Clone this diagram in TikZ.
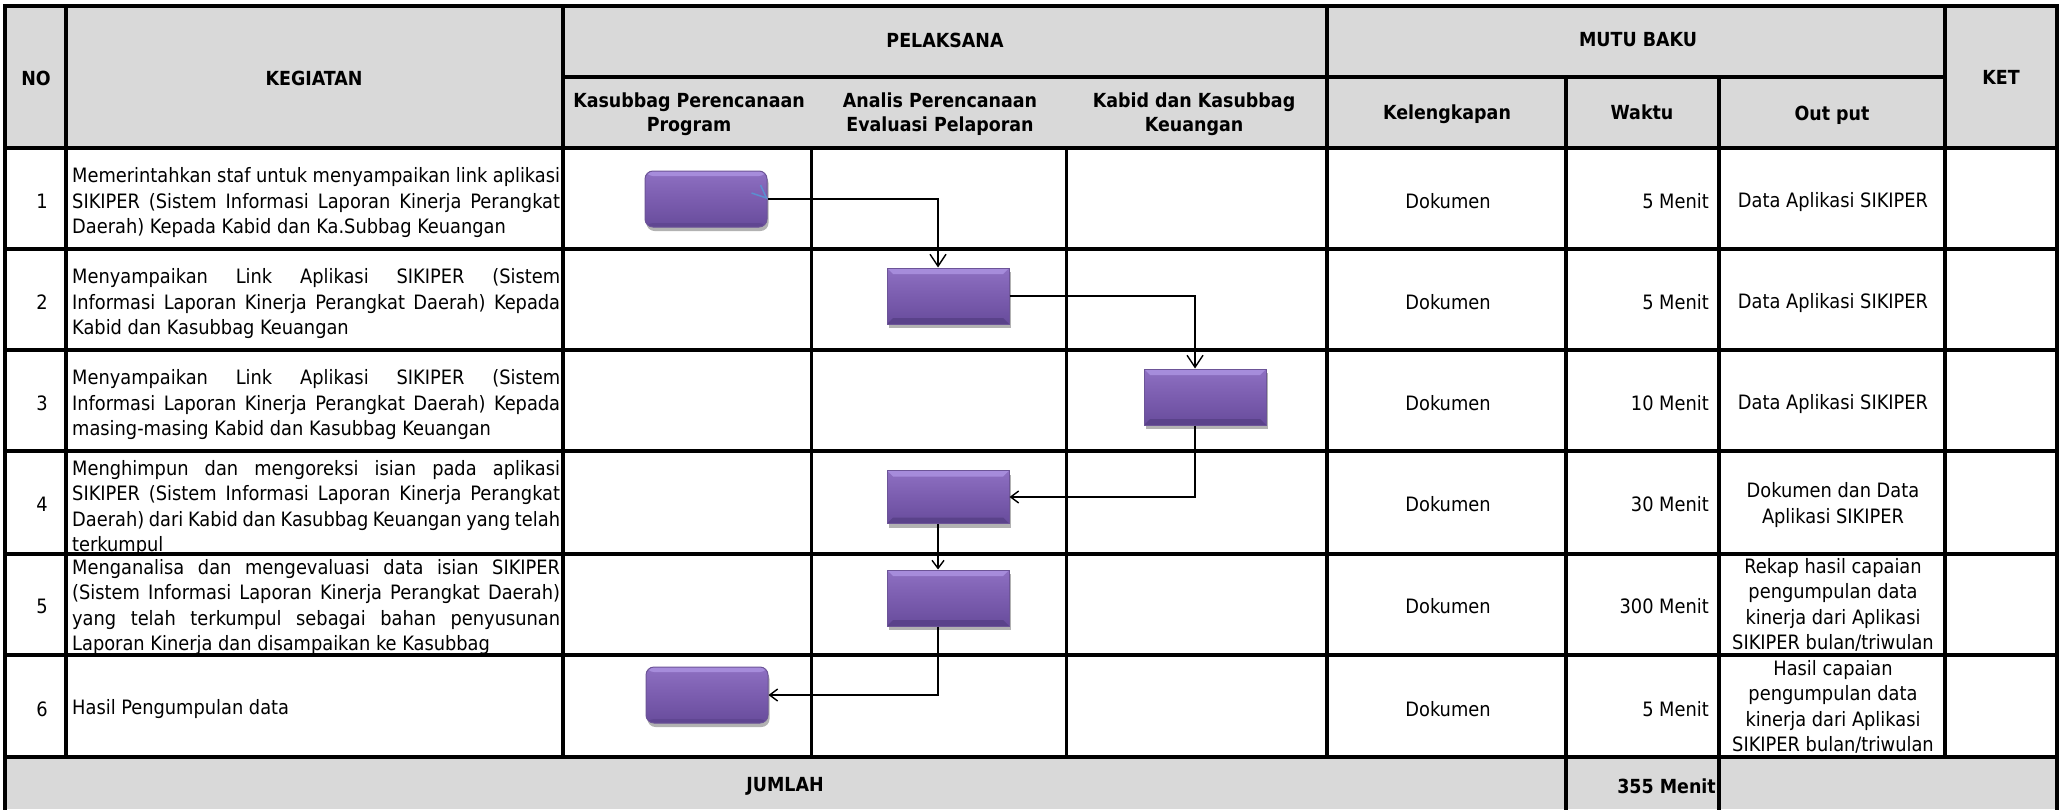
\documentclass[tikz,border=0pt]{standalone}
\usepackage{fontspec}
\setmainfont{DejaVu Sans Condensed}
\usetikzlibrary{arrows.meta,shadows}
\definecolor{hdrgray}{HTML}{D9D9D9}
\definecolor{boxtop}{HTML}{8E70C2}
\definecolor{boxmid}{HTML}{7B5DAF}
\definecolor{boxbot}{HTML}{684C9C}
\definecolor{boxedge}{HTML}{6C5497}
\definecolor{bevlight}{HTML}{A68CDB}
\definecolor{bevdark}{HTML}{5A428A}
\definecolor{artblue}{HTML}{5B8FD0}
\newcommand{\jl}[1]{\makebox[488pt][s]{#1}\\}
\begin{document}
\begin{tikzpicture}[x=1pt,y=-1pt,
  gridthick/.style={line width=4.6pt, line cap=rect},
  gridthin/.style={line width=3pt},
  hdr/.style={font=\fontsize{19.4}{24}\selectfont\bfseries, align=center, inner sep=0pt},
  txt/.style={font=\fontsize{19.8}{25.5}\selectfont, align=center, inner sep=0pt},
  conn/.style={line width=1.4pt, draw=black},
  bigtip/.style={-{Straight Barb[length=12pt,width=16pt]}},
  smalltip/.style={-{Straight Barb[length=8pt,width=12pt]}},
  flowbox/.style={minimum width=122pt, minimum height=56pt, inner sep=0pt,
    draw=boxedge, line width=1pt, top color=boxtop, bottom color=boxbot, middle color=boxmid,
    drop shadow={shadow xshift=1.5pt, shadow yshift=-4pt, opacity=0.3, fill=black}},
  roundbox/.style={flowbox, rounded corners=8pt,
    path picture={
      \fill[bevlight] (path picture bounding box.north west) rectangle ([yshift=-5pt]path picture bounding box.north east);
      \fill[bevdark, opacity=0.6] (path picture bounding box.south west) rectangle ([yshift=4pt]path picture bounding box.south east);
    }},
  bevelbox/.style={flowbox,
    path picture={
      \fill[bevlight] (path picture bounding box.north west) -- (path picture bounding box.north east)
        -- ([shift={(-6pt,-6pt)}]path picture bounding box.north east) -- ([shift={(6pt,-6pt)}]path picture bounding box.north west) -- cycle;
      \fill[bevdark] (path picture bounding box.south west) -- (path picture bounding box.south east)
        -- ([shift={(-6pt,6pt)}]path picture bounding box.south east) -- ([shift={(6pt,6pt)}]path picture bounding box.south west) -- cycle;
    }}
]
\useasboundingbox (0,0) rectangle (2062,809);
\fill[white] (0,0) rectangle (2062,809);
\fill[hdrgray] (5,6) rectangle (2057,148);
\fill[hdrgray] (5,757) rectangle (2057,809);

% header texts
\node[hdr] (hno) at (36,78) {NO};
\node[hdr] (hkeg) at (314,78) {KEGIATAN};
\node[hdr] (hpel) at (945,40) {PELAKSANA};
\node[hdr] (hmutu) at (1638,40) {MUTU BAKU};
\node[hdr] (hket) at (2001,77) {KET};
\node[hdr] (hkas) at (689,114) {Kasubbag Perencanaan\\Program};
\node[hdr] (hana) at (940,114) {Analis Perencanaan\\Evaluasi Pelaporan};
\node[hdr] (hkab) at (1194,114) {Kabid dan Kasubbag\\Keuangan};
\node[hdr] (hkel) at (1447,114) {Kelengkapan};
\node[hdr] (hwak) at (1642,112) {Waktu};
\node[hdr] (hout) at (1832,115) {Out put};

% numbers
\node[txt] (n1) at (42,201) {1};
\node[txt] (n2) at (42,302) {2};
\node[txt] (n3) at (42,403) {3};
\node[txt] (n4) at (42,504) {4};
\node[txt] (n5) at (42,606) {5};
\node[txt] (n6) at (42,709) {6};

% kegiatan
\node[txt, anchor=west] (k1) at (72,203) {\parbox{488pt}{\fontsize{19.8}{25.5}\selectfont
  \jl{Memerintahkan staf untuk menyampaikan link aplikasi}\jl{SIKIPER (Sistem Informasi Laporan Kinerja Perangkat}Daerah) Kepada Kabid dan Ka.Subbag Keuangan}};
\node[txt, anchor=west] (k2) at (72,304) {\parbox{488pt}{\fontsize{19.8}{25.5}\selectfont
  \jl{Menyampaikan Link Aplikasi SIKIPER (Sistem}\jl{Informasi Laporan Kinerja Perangkat Daerah) Kepada}Kabid dan Kasubbag Keuangan}};
\node[txt, anchor=west] (k3) at (72,405) {\parbox{488pt}{\fontsize{19.8}{25.5}\selectfont
  \jl{Menyampaikan Link Aplikasi SIKIPER (Sistem}\jl{Informasi Laporan Kinerja Perangkat Daerah) Kepada}masing-masing Kabid dan Kasubbag Keuangan}};
\node[txt, anchor=west] (k4) at (72,508) {\parbox{488pt}{\fontsize{19.8}{25.5}\selectfont
  \jl{Menghimpun dan mengoreksi isian pada aplikasi}\jl{SIKIPER (Sistem Informasi Laporan Kinerja Perangkat}\jl{Daerah) dari Kabid dan Kasubbag Keuangan yang telah}terkumpul}};
\node[txt, anchor=west] (k5) at (72,607) {\parbox{488pt}{\fontsize{19.8}{25.5}\selectfont
  \jl{Menganalisa dan mengevaluasi data isian SIKIPER}\jl{(Sistem Informasi Laporan Kinerja Perangkat Daerah)}\jl{yang telah terkumpul sebagai bahan penyusunan}Laporan Kinerja dan disampaikan ke Kasubbag}};
\node[txt, anchor=west] (k6) at (72,709) {Hasil Pengumpulan data};

% kelengkapan
\node[txt] (d1) at (1448,201) {Dokumen};
\node[txt] (d2) at (1448,302) {Dokumen};
\node[txt] (d3) at (1448,403) {Dokumen};
\node[txt] (d4) at (1448,504) {Dokumen};
\node[txt] (d5) at (1448,606) {Dokumen};
\node[txt] (d6) at (1448,709) {Dokumen};

% waktu
\node[txt, anchor=east] (w1) at (1709,201) {5 Menit};
\node[txt, anchor=east] (w2) at (1709,302) {5 Menit};
\node[txt, anchor=east] (w3) at (1709,403) {10 Menit};
\node[txt, anchor=east] (w4) at (1709,504) {30 Menit};
\node[txt, anchor=east] (w5) at (1709,606) {300 Menit};
\node[txt, anchor=east] (w6) at (1709,709) {5 Menit};

% output
\node[txt] (o1) at (1833,202) {Data Aplikasi SIKIPER};
\node[txt] (o2) at (1833,303) {Data Aplikasi SIKIPER};
\node[txt] (o3) at (1833,404) {Data Aplikasi SIKIPER};
\node[txt] (o4) at (1833,505) {Dokumen dan Data\\Aplikasi SIKIPER};
\node[txt] (o5) at (1833,605) {Rekap hasil capaian\\pengumpulan data\\kinerja dari Aplikasi\\SIKIPER bulan/triwulan};
\node[txt] (o6) at (1833,707) {Hasil capaian\\pengumpulan data\\kinerja dari Aplikasi\\SIKIPER bulan/triwulan};

% jumlah
\node[hdr] (jml) at (785,786) {JUMLAH};
\node[hdr, anchor=east] (tot) at (1716,786) {355 Menit};

% grid
\draw[gridthick] (5,6) -- (2057,6);
\draw[gridthick] (563,77) -- (1945,77);
\foreach \yy in {148,249,350,451,554,655,757} {
  \draw[gridthick] (5,\yy) -- (2057,\yy);
}
\draw[gridthick] (5,6) -- (5,809);
\draw[gridthick] (66,6) -- (66,757);
\draw[gridthick] (563,6) -- (563,757);
\draw[gridthick] (1327,6) -- (1327,757);
\draw[gridthick] (1945,6) -- (1945,757);
\draw[gridthick] (2057,6) -- (2057,809);
\draw[gridthick] (1566,77) -- (1566,809);
\draw[gridthick] (1719,77) -- (1719,809);
\draw[gridthin] (811,148) -- (811,757);
\draw[gridthin] (1066,148) -- (1066,757);

% flow boxes
\node[roundbox] (A) at (706,199) {};
\node[bevelbox] (B) at (948,296) {};
\node[bevelbox] (C) at (1205,397) {};
\node[bevelbox, minimum height=53pt] (D) at (948,497) {};
\node[bevelbox] (E) at (948,598) {};
\node[roundbox] (F) at (707,695) {};

% connectors
\draw[conn,bigtip] (A.east) -| ([xshift=-10pt]B.north);
\draw[conn,bigtip] (B.east) -| ([xshift=-10pt]C.north);
\draw[conn,smalltip] ([xshift=-10pt]C.south) |- (D.east);
\draw[conn,smalltip] ([xshift=-10pt]D.south) -- ([xshift=-10pt]E.north);
\draw[conn,smalltip] ([xshift=-10pt]E.south) |- (F.east);
\draw[artblue, line width=1.5pt] ([shift={(-7pt,14pt)}]A.east) -- ([shift={(-1pt,1pt)}]A.east) -- ([shift={(-16pt,6pt)}]A.east);
\end{tikzpicture}
\end{document}
